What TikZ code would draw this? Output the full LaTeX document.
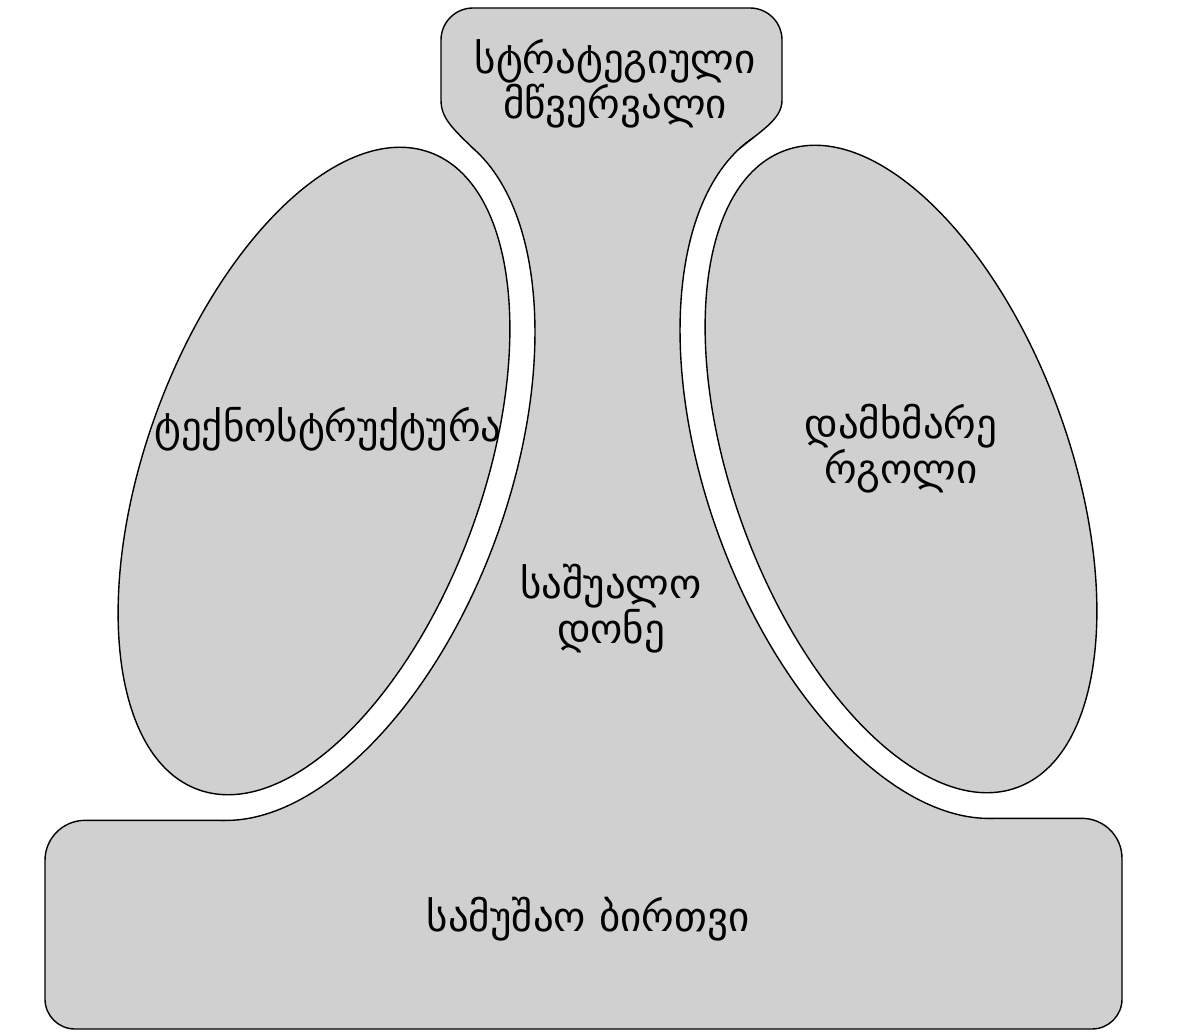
\documentclass[tikz,border=0pt]{standalone}
\usepackage{fontspec}
\newfontfamily\geo{DejaVu Sans}
\definecolor{boxgray}{RGB}{208,208,208}
\newcommand\orgbody{(441,100) -- (441,40) .. controls (441,22.3) and (455.3,8) .. (473,8)
  -- (750,8) .. controls (767.7,8) and (782,22.3) .. (782,40) -- (782,100)
  .. controls (782,118) and (765,128) .. (739.6,148.6)
  -- (901,469) -- (988.9,818.35)
  -- (1082,818.35) .. controls (1104.1,818.35) and (1122,836.3) .. (1122,858.35)
  -- (1122,999) .. controls (1122,1015.6) and (1108.6,1029) .. (1092,1029)
  -- (75,1029) .. controls (58.4,1029) and (45,1015.6) .. (45,999)
  -- (45,860.35) .. controls (45,838.3) and (62.9,820.35) .. (85,820.35)
  -- (226.1,820.35) -- (314,471) -- (475.4,150.6)
  .. controls (452,128) and (441,118) .. (441,100) -- cycle}
\begin{document}
\begin{tikzpicture}[x=1pt,y=-1pt,
  outline/.style={line width=1.4pt, draw=black, line join=round},
  lbl/.style={font=\geo\fontsize{41}{32}\selectfont, align=center, text=black, inner sep=0pt}]
\fill[white] (0,0) rectangle (1189,1032);
\useasboundingbox (0,0) rectangle (1189,1032);
% body: apex + middle line + operating core
\fill[boxgray] \orgbody;
% white gaps around the two side units
\fill[white, rotate around={-20:(314,471)}] (314,471) ellipse [x radius=194, y radius=365];
\fill[white, rotate around={20:(901,469)}] (901,469) ellipse [x radius=194, y radius=365];
% visible outline of the body
\draw[outline] (475.4,150.6) .. controls (452,128) and (441,118) .. (441,100)
  -- (441,40) .. controls (441,22.3) and (455.3,8) .. (473,8)
  -- (750,8) .. controls (767.7,8) and (782,22.3) .. (782,40) -- (782,100)
  .. controls (782,118) and (765,128) .. (739.6,148.6);
\draw[outline] (988.9,818.35)
  -- (1082,818.35) .. controls (1104.1,818.35) and (1122,836.3) .. (1122,858.35)
  -- (1122,999) .. controls (1122,1015.6) and (1108.6,1029) .. (1092,1029)
  -- (75,1029) .. controls (58.4,1029) and (45,1015.6) .. (45,999)
  -- (45,860.35) .. controls (45,838.3) and (62.9,820.35) .. (85,820.35)
  -- (226.1,820.35);
\begin{scope}
  \clip \orgbody;
  \draw[outline, rotate around={-20:(314,471)}] (314,471) ellipse [x radius=194, y radius=365];
  \draw[outline, rotate around={20:(901,469)}] (901,469) ellipse [x radius=194, y radius=365];
\end{scope}
% side units
\filldraw[outline, fill=boxgray, rotate around={-20:(314,471)}] (314,471) ellipse [x radius=168, y radius=339];
\filldraw[outline, fill=boxgray, rotate around={20:(901,469)}] (901,469) ellipse [x radius=168, y radius=339];
% labels
\node[lbl] (apex) at (615,84) {სტრატეგიული\\მწვერვალი};
\node[lbl] (techno) at (328,429) {ტექნოსტრუქტურა};
\node[lbl] (support) at (901,449) {დამხმარე\\რგოლი};
\node[lbl] (middle) at (611,609) {საშუალო\\დონე};
\node[lbl] (core) at (588,919) {სამუშაო ბირთვი};
\end{tikzpicture}
\end{document}
